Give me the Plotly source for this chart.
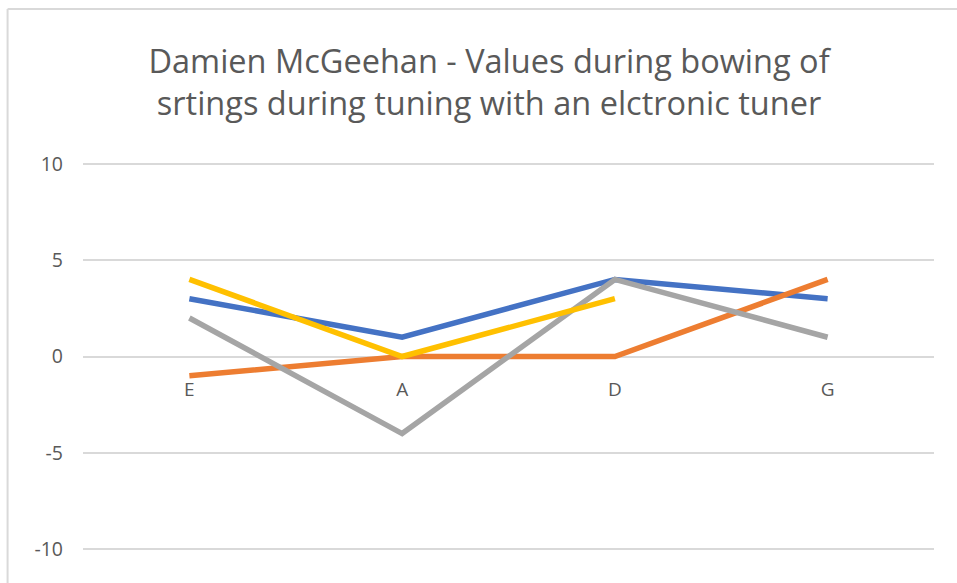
import plotly.graph_objects as go

# Strings of the violin, in bowing order
strings = ["E", "A", "D", "G"]

# Tuner readings per run of bowing (None = no reading taken)
series_1 = [3, 1, 4, 3]
series_2 = [-1, 0, 0, 4]
series_3 = [2, -4, 4, 1]
series_4 = [4, 0, 3, None]

y_ticks = [-10, -5, 0, 5, 10]
y_tick_labels = [str(v) for v in y_ticks]

runs = [
    ("Series1", series_1, "#4472C4"),
    ("Series2", series_2, "#ED7D31"),
    ("Series3", series_3, "#A5A5A5"),
    ("Series4", series_4, "#FFC000"),
]

W, H = 957, 583
M_L, M_R, M_T, M_B = 82.5, 22.5, 158, 28

fig = go.Figure()
for name, vals, color in runs:
    fig.add_trace(go.Scatter(
        x=strings, y=vals, name=name, mode="lines",
        line=dict(color=color, width=5.5),
        connectgaps=False, hoverinfo="x+y+name",
    ))

grey_text = "#595959"
grid = "#D9D9D9"

fig.update_layout(
    width=W, height=H,
    margin=dict(l=M_L, r=M_R, t=M_T, b=M_B, pad=0),
    paper_bgcolor="white", plot_bgcolor="white",
    showlegend=False,
    title=dict(
        text="Damien McGeehan - Values during bowing of<br>srtings during tuning with an elctronic tuner",
        x=489 / W, xanchor="center", xref="container",
        y=1 - 73 / H, yanchor="middle", yref="container",
        font=dict(family="Open Sans", size=32.5, color=grey_text),
    ),
    xaxis=dict(
        type="category", range=[-0.5, 3.5],
        anchor="free", position=0.5,
        showgrid=False, showline=False, zeroline=False,
        ticks="", ticklabelstandoff=19,
        tickfont=dict(family="Open Sans", size=19, color=grey_text),
    ),
    yaxis=dict(
        range=[-10.3, 10.3], tickvals=y_ticks, ticktext=y_tick_labels,
        showgrid=True, gridcolor=grid, gridwidth=1.5,
        zeroline=False, showline=False, ticks="",
        ticklabelstandoff=19,
        tickfont=dict(family="Open Sans", size=19.5, color=grey_text),
    ),
)

# Light frame around the whole chart area
plot_w = W - M_L - M_R
plot_h = H - M_T - M_B
def px_x(p):
    return (p - M_L) / plot_w
def px_y(p):
    return (H - M_B - p) / plot_h

frame = dict(color=grid, width=2)
fig.add_shape(type="line", xref="paper", yref="paper",
              x0=px_x(7), x1=px_x(W + 2), y0=px_y(9), y1=px_y(9), line=frame)
fig.add_shape(type="line", xref="paper", yref="paper",
              x0=px_x(7), x1=px_x(7), y0=px_y(9), y1=px_y(H + 2), line=frame)

fig.write_html("out.html")
